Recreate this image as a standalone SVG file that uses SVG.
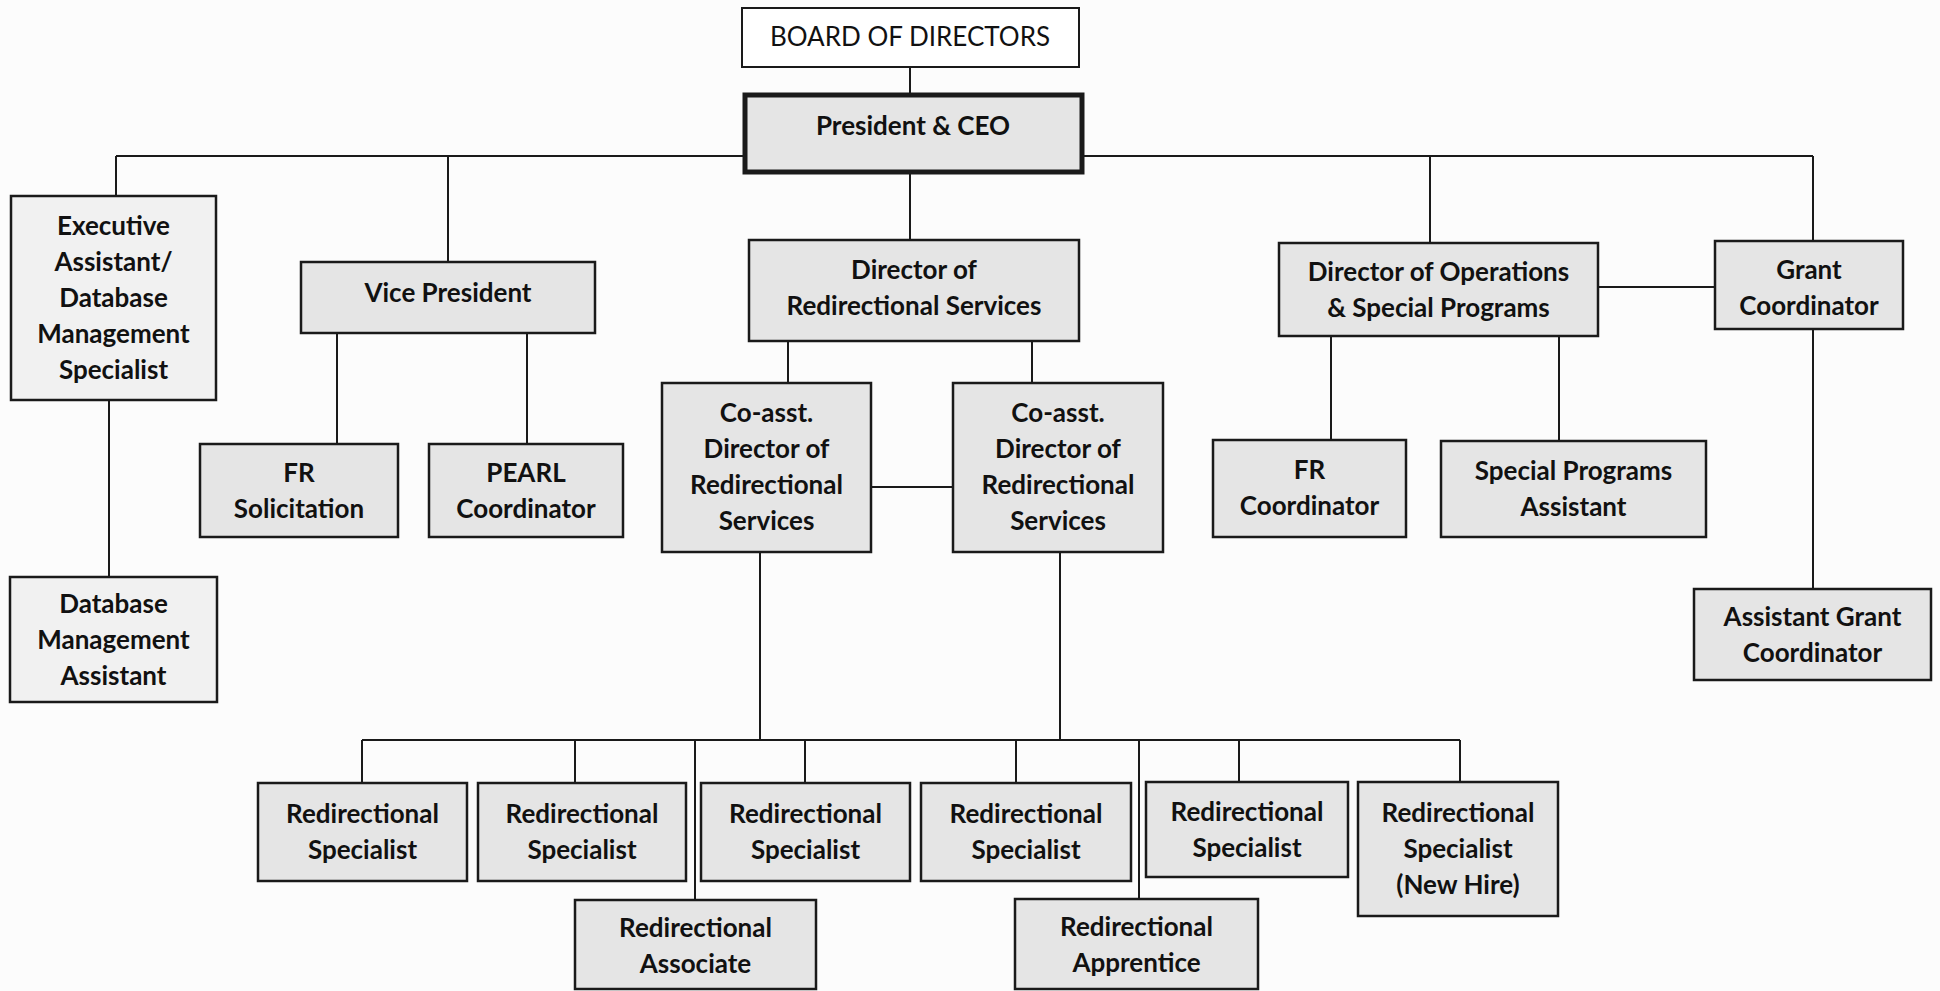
<svg xmlns="http://www.w3.org/2000/svg" width="1940" height="991" viewBox="0 0 1940 991">
<style>
.bg{fill:#fcfcfc}
.box{fill:#e5e5e5;stroke:#1a1a1a;stroke-width:2.5}
.lt{fill:#f1f1f1}
.wh{fill:#ffffff;stroke-width:2}
.pres{stroke-width:5}
.c line{stroke:#1a1a1a;stroke-width:2}
text{font-family:Lato,"Open Sans","Liberation Sans",sans-serif;font-size:26px;font-weight:700;fill:#111;text-anchor:middle}
.n{font-weight:400}
</style>
<rect class="bg" x="0" y="0" width="1940" height="991"/>
<g id="connectors" class="c">
<line x1="910" y1="67" x2="910" y2="94"/>
<line x1="116" y1="156" x2="1813" y2="156"/>
<line x1="116" y1="156" x2="116" y2="196"/>
<line x1="448" y1="156" x2="448" y2="262"/>
<line x1="910" y1="173" x2="910" y2="240"/>
<line x1="1430" y1="156" x2="1430" y2="243"/>
<line x1="1813" y1="156" x2="1813" y2="241"/>
<line x1="109" y1="400" x2="109" y2="577"/>
<line x1="337" y1="333" x2="337" y2="444"/>
<line x1="527" y1="333" x2="527" y2="444"/>
<line x1="788" y1="341" x2="788" y2="383"/>
<line x1="1032" y1="341" x2="1032" y2="383"/>
<line x1="871" y1="487" x2="953" y2="487"/>
<line x1="760" y1="552" x2="760" y2="740"/>
<line x1="1060" y1="552" x2="1060" y2="740"/>
<line x1="362" y1="740" x2="1460" y2="740"/>
<line x1="362" y1="740" x2="362" y2="783"/>
<line x1="575" y1="740" x2="575" y2="783"/>
<line x1="695" y1="740" x2="695" y2="900"/>
<line x1="805" y1="740" x2="805" y2="783"/>
<line x1="1016" y1="740" x2="1016" y2="783"/>
<line x1="1139" y1="740" x2="1139" y2="899"/>
<line x1="1239" y1="740" x2="1239" y2="782"/>
<line x1="1460" y1="740" x2="1460" y2="782"/>
<line x1="1598" y1="287" x2="1715" y2="287"/>
<line x1="1331" y1="336" x2="1331" y2="440"/>
<line x1="1559" y1="336" x2="1559" y2="441"/>
<line x1="1813" y1="329" x2="1813" y2="589"/>
</g>
<g id="board"><rect class="box wh" x="742" y="8" width="337" height="59"/><text class="n" x="910" y="46">BOARD OF DIRECTORS</text></g>
<g id="president"><rect class="box pres" x="745" y="95" width="337" height="77"/><text x="913" y="135">President &amp; CEO</text></g>
<g id="exec"><rect class="box lt" x="11" y="196" width="205" height="204"/><text x="113.5" y="235">Executive</text><text x="113.5" y="271">Assistant/</text><text x="113.5" y="307">Database</text><text x="113.5" y="343">Management</text><text x="113.5" y="379">Specialist</text></g>
<g id="db-assistant"><rect class="box lt" x="10" y="577" width="207" height="125"/><text x="113.5" y="613">Database</text><text x="113.5" y="649">Management</text><text x="113.5" y="685">Assistant</text></g>
<g id="vp"><rect class="box" x="301" y="262" width="294" height="71"/><text x="448" y="302">Vice President</text></g>
<g id="fr-solicitation"><rect class="box" x="200" y="444" width="198" height="93"/><text x="299" y="482">FR</text><text x="299" y="518">Solicitation</text></g>
<g id="pearl"><rect class="box" x="429" y="444" width="194" height="93"/><text x="526" y="482">PEARL</text><text x="526" y="518">Coordinator</text></g>
<g id="dir-redir"><rect class="box" x="749" y="240" width="330" height="101"/><text x="914" y="279">Director of</text><text x="914" y="315">Redirectional Services</text></g>
<g id="coasst-1"><rect class="box" x="662" y="383" width="209" height="169"/><text x="766.5" y="422">Co-asst.</text><text x="766.5" y="458">Director of</text><text x="766.5" y="494">Redirectional</text><text x="766.5" y="530">Services</text></g>
<g id="coasst-2"><rect class="box" x="953" y="383" width="210" height="169"/><text x="1058" y="422">Co-asst.</text><text x="1058" y="458">Director of</text><text x="1058" y="494">Redirectional</text><text x="1058" y="530">Services</text></g>
<g id="dir-ops"><rect class="box" x="1279" y="243" width="319" height="93"/><text x="1438.5" y="281">Director of Operations</text><text x="1438.5" y="317">&amp; Special Programs</text></g>
<g id="grant"><rect class="box" x="1715" y="241" width="188" height="88"/><text x="1809" y="279">Grant</text><text x="1809" y="315">Coordinator</text></g>
<g id="fr-coord"><rect class="box" x="1213" y="440" width="193" height="97"/><text x="1309.5" y="479">FR</text><text x="1309.5" y="515">Coordinator</text></g>
<g id="sp-assistant"><rect class="box" x="1441" y="441" width="265" height="96"/><text x="1573.5" y="480">Special Programs</text><text x="1573.5" y="516">Assistant</text></g>
<g id="asst-grant"><rect class="box" x="1694" y="589" width="237" height="91"/><text x="1812.5" y="626">Assistant Grant</text><text x="1812.5" y="662">Coordinator</text></g>
<g id="rs-1"><rect class="box" x="258" y="783" width="209" height="98"/><text x="362.5" y="823">Redirectional</text><text x="362.5" y="859">Specialist</text></g>
<g id="rs-2"><rect class="box" x="478" y="783" width="208" height="98"/><text x="582" y="823">Redirectional</text><text x="582" y="859">Specialist</text></g>
<g id="rs-3"><rect class="box" x="701" y="783" width="209" height="98"/><text x="805.5" y="823">Redirectional</text><text x="805.5" y="859">Specialist</text></g>
<g id="rs-4"><rect class="box" x="921" y="783" width="210" height="98"/><text x="1026" y="823">Redirectional</text><text x="1026" y="859">Specialist</text></g>
<g id="rs-5"><rect class="box" x="1146" y="782" width="202" height="95"/><text x="1247" y="821">Redirectional</text><text x="1247" y="857">Specialist</text></g>
<g id="rs-newhire"><rect class="box" x="1358" y="782" width="200" height="134"/><text x="1458" y="822">Redirectional</text><text x="1458" y="858">Specialist</text><text x="1458" y="894">(New Hire)</text></g>
<g id="associate"><rect class="box" x="575" y="900" width="241" height="89"/><text x="695.5" y="937">Redirectional</text><text x="695.5" y="973">Associate</text></g>
<g id="apprentice"><rect class="box" x="1015" y="899" width="243" height="90"/><text x="1136.5" y="936">Redirectional</text><text x="1136.5" y="972">Apprentice</text></g>
</svg>
